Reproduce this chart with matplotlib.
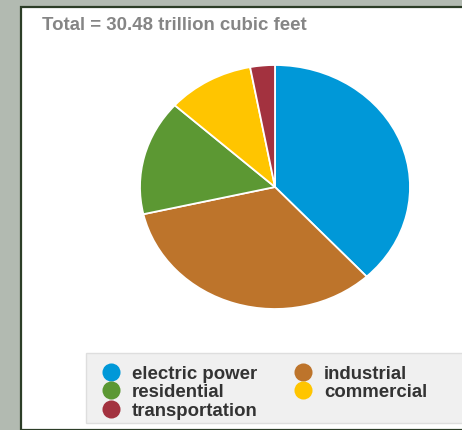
import matplotlib.pyplot as plt
from matplotlib.patches import Rectangle
from matplotlib.lines import Line2D

# natural gas consumption by sector, trillion cubic feet
sectors = ['electric power', 'industrial', 'residential', 'commercial', 'transportation']
volumes = [11.62, 10.15, 4.65, 3.16, 0.90]
colors = ['#0098D8', '#BD742B', '#5C9833', '#FFC500', '#A3323F']
total = 30.48

W, H = 462, 431
fig = plt.figure(figsize=(W / 100, H / 100), dpi=100, facecolor='#B2BAB1')

def fx(px):
    return px / W

def fy(py):
    return 1 - py / H

# white panel with dark frame
fig.patches.append(Rectangle((fx(21), 0), 1.0, fy(7.5), transform=fig.transFigure,
                             facecolor='white', edgecolor='#2C3D27', linewidth=1.6, zorder=-10))

fig.text(fx(42), fy(26), f'Total = {total} trillion cubic feet', color='#858585',
         fontsize=13.4, fontweight='bold', family='Liberation Sans', va='center', ha='left')

# pie, slightly wider than tall
cx, cy, rx, ry = 275, 188, 135, 122
ax = fig.add_axes([fx(cx - rx), fy(cy + ry), (2 * rx) / W, (2 * ry) / H])
ax.set_zorder(5)
ax.pie(volumes, colors=colors, startangle=90, counterclock=False, radius=1,
       wedgeprops=dict(edgecolor='white', linewidth=1.3))
ax.set_aspect('auto')
ax.set_xlim(-1, 1)
ax.set_ylim(-1, 1)
ax.axis('off')

# legend box running off the right edge
fig.patches.append(Rectangle((fx(86), fy(424)), 1.0, (424 - 354) / H, transform=fig.transFigure,
                             facecolor='#F0F0F0', edgecolor='#DEDEDE', linewidth=1, zorder=1))

legend_order = [0, 2, 4, 1, 3]
slots = [(111, 373), (111, 391), (111, 410), (303, 373), (303, 391)]
for i, (mx, my) in zip(legend_order, slots):
    fig.add_artist(Line2D([fx(mx)], [fy(my)], marker='o', markersize=13, color=colors[i],
                          markeredgewidth=0, transform=fig.transFigure, zorder=2))
    fig.text(fx(mx + 21), fy(my + 1.5), sectors[i], color='#333333', fontsize=13.4,
             fontweight='bold', family='Liberation Sans', va='center', ha='left', zorder=2)

fig.savefig('out.png', dpi=100, facecolor=fig.get_facecolor())
